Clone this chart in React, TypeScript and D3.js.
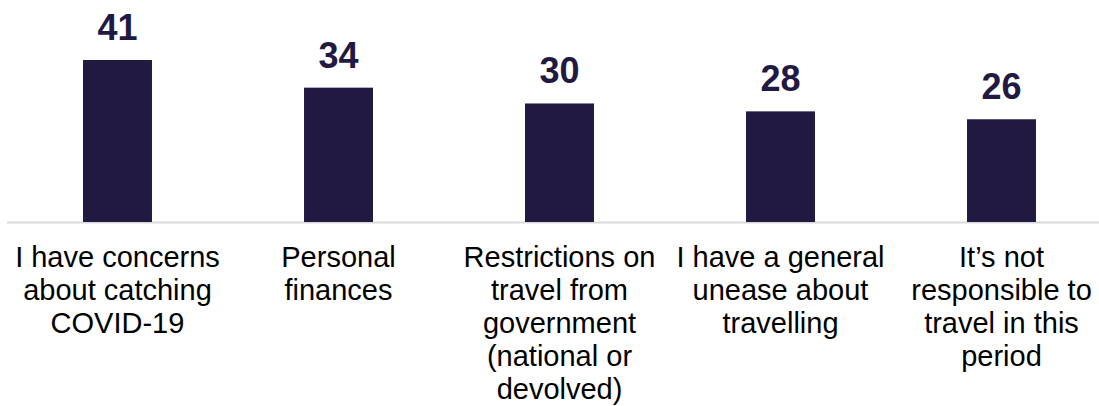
import React from "react";
import * as d3 from "d3";

const categories: string[] = [
  "I have concerns\nabout catching\nCOVID-19",
  "Personal\nfinances",
  "Restrictions on\ntravel from\ngovernment\n(national or\ndevolved)",
  "I have a general\nunease about\ntravelling",
  "It\u2019s not\nresponsible to\ntravel in this\nperiod",
];
const values: number[] = [41, 34, 30, 28, 26];

const W = 1099;
const H = 406;
const BAR_COLOR = "#211942";

export default function App() {
  const x = d3
    .scaleBand<string>()
    .domain(categories)
    .range([7, 1112])
    .paddingInner(0.688)
    .paddingOuter(0.344);
  const y = d3
    .scaleLinear()
    .domain([0, d3.max(values) as number])
    .range([222, 60]);

  const font = "'Liberation Sans', Arial, Helvetica, sans-serif";

  return (
    <svg
      width={W}
      height={H}
      style={{ position: "absolute", left: 0, top: 0, background: "#fff" }}
      fontFamily={font}
    >
      <line x1={7} x2={W} y1={222.5} y2={222.5} stroke="#d9d9d9" strokeWidth={2} />
      {categories.map((c, i) => {
        const bx = x(c) as number;
        const bw = x.bandwidth();
        const cx = bx + bw / 2;
        const top = y(values[i]);
        const lines = c.split("\n");
        return (
          <g key={c}>
            <rect x={bx} y={top} width={bw} height={y(0) - top} fill={BAR_COLOR} />
            <text
              x={cx}
              y={top - 20}
              textAnchor="middle"
              fontSize={36}
              fontWeight="bold"
              fill={BAR_COLOR}
            >
              {values[i]}
            </text>
            <text x={cx} y={267} textAnchor="middle" fontSize={29} fill="#000">
              {lines.map((l, j) => (
                <tspan key={j} x={cx} dy={j === 0 ? 0 : 33}>
                  {l}
                </tspan>
              ))}
            </text>
          </g>
        );
      })}
    </svg>
  );
}
